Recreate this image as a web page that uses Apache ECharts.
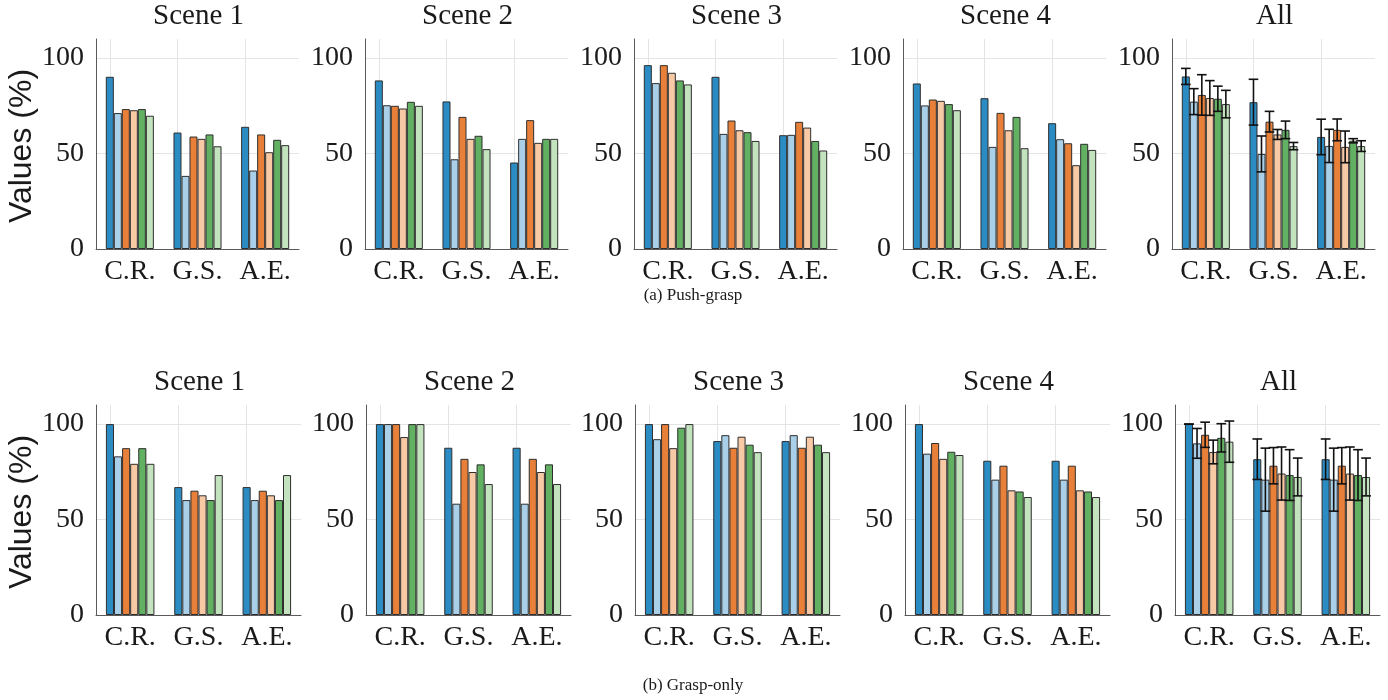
<!DOCTYPE html>
<html>
<head>
<meta charset="utf-8">
<script src="https://cdn.jsdelivr.net/npm/echarts@6/dist/echarts.min.js"></script>
<style>
  html, body { margin: 0; padding: 0; background: #ffffff; }
  #chart { width: 1388px; height: 700px; }
</style>
</head>
<body>
<div id="chart"></div>
<script>
// ---- data -------------------------------------------------------------
const categories = ['C.R.', 'G.S.', 'A.E.'];
const panelTitles = ['Scene 1', 'Scene 2', 'Scene 3', 'Scene 4', 'All'];
const rowCaptions = ['(a) Push-grasp', '(b) Grasp-only'];
const yTicks = [0, 50, 100];
const barColors = ['#2b8cc4', '#a9d0e8', '#e8803a', '#f7c9a5', '#62b062', '#c3e3bf'];

// Push-grasp: one row per category (C.R., G.S., A.E.), six bars each
const pushScene1 = [[90.2, 71.2, 73.3, 72.7, 73.3, 69.8], [61.0, 38.3, 58.9, 57.7, 60.0, 53.8], [64.0, 41.1, 60.0, 50.7, 57.2, 54.4]];
const pushScene2 = [[88.3, 75.3, 75.0, 73.6, 77.1, 75.0], [77.3, 47.0, 69.2, 57.7, 59.3, 52.3], [45.3, 57.7, 67.5, 55.6, 57.7, 57.7]];
const pushScene3 = [[96.3, 86.9, 96.3, 92.3, 88.3, 86.2], [90.2, 60.3, 67.3, 62.2, 61.2, 56.6], [59.6, 59.8, 66.6, 63.6, 56.6, 51.6]];
const pushScene4 = [[86.7, 75.2, 78.3, 77.6, 75.9, 72.7], [79.0, 53.5, 71.3, 62.2, 69.2, 52.8], [65.9, 57.5, 55.4, 43.9, 55.1, 51.9]];
const pushAll    = [[90.4, 77.2, 80.7, 79.1, 78.7, 75.9], [76.9, 49.8, 66.7, 60.0, 62.4, 53.9], [58.7, 54.0, 62.4, 53.5, 56.7, 53.9]];
const pushAllErr = [[4.2, 6.8, 10.6, 9.1, 6.6, 7.2], [12.0, 9.4, 5.4, 2.6, 4.6, 1.9], [9.3, 8.7, 5.7, 8.3, 1.1, 2.8]];

// Grasp-only
const graspScene1 = [[100, 83.1, 87.4, 79.2, 87.4, 79.2], [67.0, 60.2, 65.1, 62.7, 60.2, 73.3], [67.0, 60.2, 65.1, 62.7, 60.2, 73.3]];
const graspScene2 = [[100, 100, 100, 93.2, 100, 100], [87.6, 58.3, 81.8, 74.9, 78.9, 68.6], [87.6, 58.3, 81.8, 74.9, 78.9, 68.6]];
const graspScene3 = [[100, 92.1, 100, 87.4, 98.1, 100], [91.1, 94.2, 87.6, 93.4, 89.2, 85.3], [91.1, 94.2, 87.6, 93.4, 89.2, 85.3]];
const graspScene4 = [[100, 84.5, 90.1, 81.8, 85.5, 83.8], [80.8, 70.9, 78.2, 65.3, 64.7, 61.8], [80.8, 70.9, 78.2, 65.3, 64.7, 61.8]];
const graspAll    = [[100, 89.9, 94.4, 85.4, 92.8, 90.8], [81.6, 70.9, 78.2, 74.1, 73.3, 72.3], [81.6, 70.9, 78.2, 74.1, 73.3, 72.3]];
const graspAllErr = [[0, 7.8, 6.6, 6.2, 7.4, 10.8], [10.6, 16.5, 9.5, 13.9, 13.3, 9.9], [10.6, 16.5, 9.5, 13.9, 13.3, 9.9]];

// ---- layout -----------------------------------------------------------
const SERIF = '"Liberation Serif", "Times New Roman", serif';
const SANS = '"Liberation Sans", Arial, sans-serif';
const CAT_GAP = 0.29;
const rows = [
  { panels: [pushScene1, pushScene2, pushScene3, pushScene4, pushAll], err: pushAllErr,
    lefts: [96, 365, 634, 903, 1172], width: 203, top: 39, titleY: 16, captionY: 296, yLabelY: 146 },
  { panels: [graspScene1, graspScene2, graspScene3, graspScene4, graspAll], err: graspAllErr,
    lefts: [96, 366, 635, 905, 1175], width: 205, top: 405, titleY: 382, captionY: 686, yLabelY: 512 }
];
const PLOT_H = 210;

const grids = [], xAxes = [], yAxes = [], series = [], graphics = [];

// error bar (mean ± err) centred on the k-th bar of a category group
function renderErrorBar(params, api) {
  const ci = api.value(0), mean = api.value(1), err = api.value(2), k = api.value(3);
  const band = api.size([1, 0])[0];
  const bw = band * (1 - CAT_GAP) / 6;
  const cx = api.coord([ci, mean])[0] + (k - 2.5) * bw;
  const yT = api.coord([ci, mean + err])[1];
  const yB = api.coord([ci, mean - err])[1];
  const h = bw * 0.6;
  const st = { stroke: '#111111', lineWidth: 1.6 };
  return {
    type: 'group',
    children: [
      { type: 'line', shape: { x1: cx, y1: yT, x2: cx, y2: yB }, style: st },
      { type: 'line', shape: { x1: cx - h, y1: yT, x2: cx + h, y2: yT }, style: st },
      { type: 'line', shape: { x1: cx - h, y1: yB, x2: cx + h, y2: yB }, style: st }
    ]
  };
}

rows.forEach((row, r) => {
  row.panels.forEach((vals, p) => {
    const gi = grids.length;
    const left = row.lefts[p];
    grids.push({ left: left, top: row.top, width: row.width, height: PLOT_H, outerBoundsMode: 'none', containLabel: false });
    xAxes.push({
      type: 'category', gridIndex: gi, data: categories,
      axisLine: { show: true, lineStyle: { color: '#5a5a5a', width: 1 } },
      axisTick: { show: false },
      splitLine: { show: false },
      axisLabel: { interval: 0, fontFamily: SERIF, fontSize: 28, color: '#1a1a1a', margin: 9 }
    });
    yAxes.push({
      type: 'value', gridIndex: gi, min: 0, max: 110, interval: 50,
      axisLine: { show: true, lineStyle: { color: '#5a5a5a', width: 1 } },
      axisTick: { show: false },
      splitLine: { show: true, showMaxLine: false, lineStyle: { color: '#e4e4e4', width: 1 } },
      axisLabel: {
        fontFamily: SERIF, fontSize: 28, color: '#1a1a1a', margin: 12, showMaxLabel: false,
        formatter: v => (yTicks.includes(v) ? String(v) : '')
      }
    });
    for (let k = 0; k < 6; k++) {
      const s = {
        type: 'bar', xAxisIndex: gi, yAxisIndex: gi,
        data: categories.map((c, ci) => vals[ci][k]),
        barGap: '0%', barCategoryGap: (CAT_GAP * 100) + '%',
        itemStyle: { color: barColors[k], borderColor: '#2e2e2e', borderWidth: 1 },
        silent: true, animation: false, z: 2
      };
      if (k === 0) {
        s.markLine = {
          silent: true, symbol: ['none', 'none'], animation: false, z: 1,
          label: { show: false },
          lineStyle: { color: '#e4e4e4', width: 1, type: 'solid' },
          emphasis: { disabled: true },
          data: categories.map(c => ({ xAxis: c }))
        };
      }
      series.push(s);
    }
    if (p === 4) {
      const errData = [];
      categories.forEach((c, ci) => {
        for (let k = 0; k < 6; k++) errData.push([ci, vals[ci][k], row.err[ci][k], k]);
      });
      series.push({
        type: 'custom', xAxisIndex: gi, yAxisIndex: gi, data: errData,
        encode: { x: 0, y: 1 }, renderItem: renderErrorBar,
        silent: true, animation: false, z: 5
      });
    }
    graphics.push({
      type: 'text', x: left + row.width / 2 + 1, y: row.titleY, silent: true,
      style: { text: panelTitles[p], fontFamily: SERIF, fontSize: 29, fill: '#1a1a1a', align: 'center', verticalAlign: 'middle' }
    });
  });
  graphics.push({
    type: 'text', x: 22, y: row.yLabelY, rotation: Math.PI / 2, silent: true,
    style: { text: 'Values (%)', fontFamily: SANS, fontSize: 32, fill: '#1a1a1a', align: 'center', verticalAlign: 'middle' }
  });
  graphics.push({
    type: 'text', x: 693, y: row.captionY, silent: true,
    style: { text: rowCaptions[r], fontFamily: SERIF, fontSize: 17, fill: '#1a1a1a', align: 'center', verticalAlign: 'middle' }
  });
});

const chart = echarts.init(document.getElementById('chart'), null, { renderer: 'canvas' });
chart.setOption({
  backgroundColor: '#ffffff',
  animation: false,
  grid: grids,
  xAxis: xAxes,
  yAxis: yAxes,
  series: series,
  graphic: graphics
});
</script>
</body>
</html>
